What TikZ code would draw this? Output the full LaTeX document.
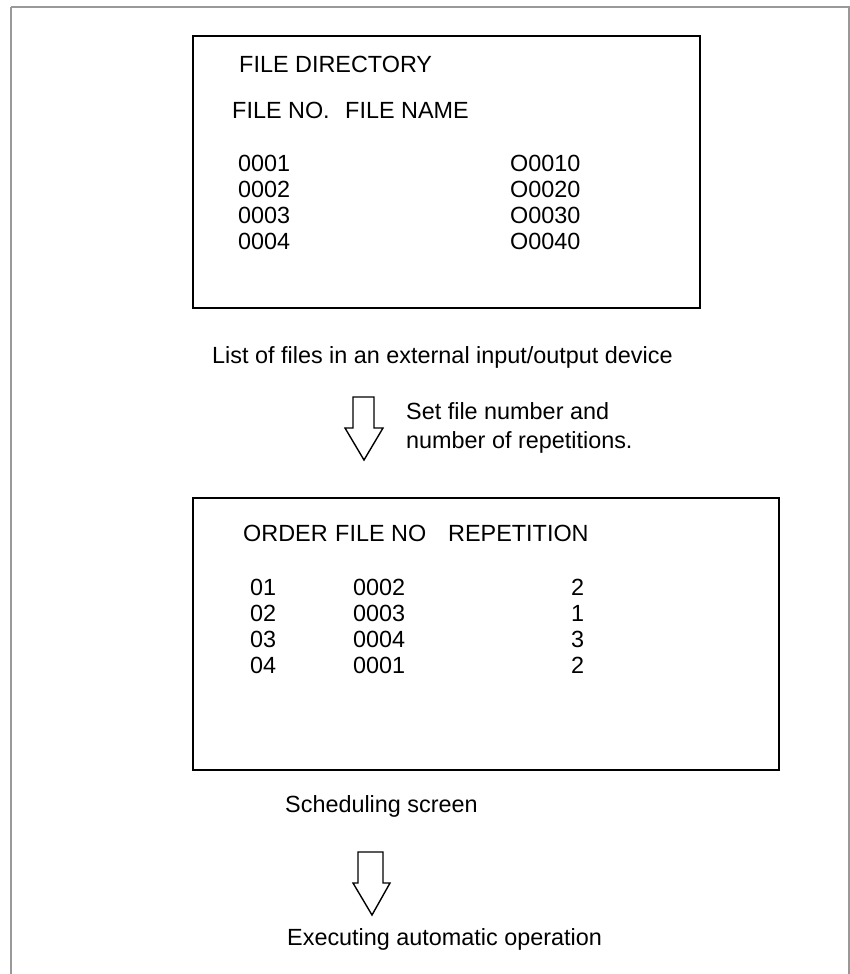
\documentclass[tikz,border=0pt]{standalone}
\usepackage{fontspec}
\setmainfont{Liberation Sans}
\begin{document}
\begin{tikzpicture}[x=1pt,y=-1pt,
  txt/.style={anchor=base west,inner sep=0pt,font=\fontsize{23.4}{28}\selectfont},
  screen/.style={draw=black,line width=1.6pt},
  blockarrow/.style={draw=black,line width=1.4pt,fill=white,line join=miter}]
\useasboundingbox (0,0) rectangle (850,974);
% outer frame
\draw[draw=gray!80,line width=2pt] (11,7) -- (849,7) -- (849,990) (11,7) -- (11,990);
% screen 1
\draw[screen] (193,36) rectangle (700,308);
\node[txt] (t1) at (239,73) {FILE DIRECTORY};
\node[txt] (h1) at (232,118) {FILE NO.};
\node[txt] (h2) at (345,118) {FILE NAME};
\node[txt] (n1) at (238,171) {0001};
\node[txt] (n2) at (238,197) {0002};
\node[txt] (n3) at (238,223) {0003};
\node[txt] (n4) at (238,249) {0004};
\node[txt] (f1) at (510,171) {O0010};
\node[txt] (f2) at (510,197) {O0020};
\node[txt] (f3) at (510,223) {O0030};
\node[txt] (f4) at (510,249) {O0040};
\node[txt] (cap1) at (212,363) {List of files in an external input/output device};
% arrow 1
\draw[blockarrow] (353,397) -- (374,397) -- (374,428) -- (383,428) -- (364,460) -- (345,428) -- (353,428) -- cycle;
\node[txt] (set1) at (406,419) {Set file number and};
\node[txt] (set2) at (406,448) {number of repetitions.};
% screen 2
\draw[screen] (193,498) rectangle (779,770);
\node[txt] (o1) at (243,541) {ORDER};
\node[txt] (o2) at (335,541) {FILE NO};
\node[txt] (o3) at (448,541) {REPETITION};
\node[txt] (r1) at (250,595) {01};
\node[txt] (r2) at (250,621) {02};
\node[txt] (r3) at (250,647) {03};
\node[txt] (r4) at (250,673) {04};
\node[txt] (s1) at (353,595) {0002};
\node[txt] (s2) at (353,621) {0003};
\node[txt] (s3) at (353,647) {0004};
\node[txt] (s4) at (353,673) {0001};
\node[txt] (p1) at (571,595) {2};
\node[txt] (p2) at (571,621) {1};
\node[txt] (p3) at (571,647) {3};
\node[txt] (p4) at (571,673) {2};
\node[txt] (cap2) at (285,812) {Scheduling screen};
% arrow 2
\draw[blockarrow] (358,852) -- (383,852) -- (383,883) -- (390,883) -- (372,915) -- (353,883) -- (358,883) -- cycle;
\node[txt] (cap3) at (287,945) {Executing automatic operation};
\end{tikzpicture}
\end{document}
